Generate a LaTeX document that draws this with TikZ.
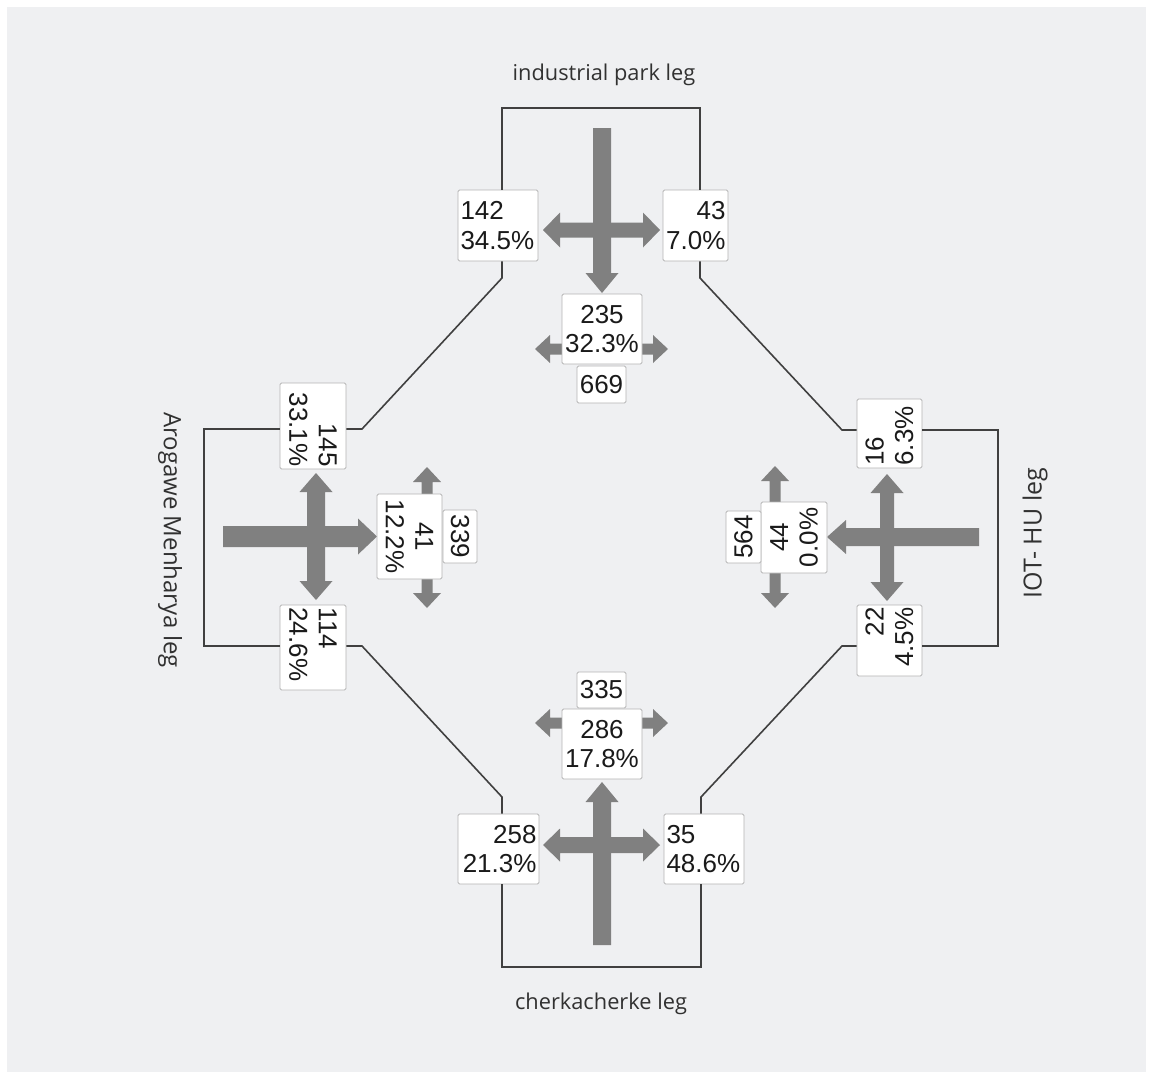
\documentclass[tikz,border=0pt]{standalone}
\usepackage{fontspec}
\setmainfont{Liberation Sans}
\newfontfamily\titlefont{Open Sans}
\usetikzlibrary{calc}
\definecolor{bg}{HTML}{EFF0F2}
\definecolor{arr}{HTML}{808080}
\definecolor{ln}{HTML}{404040}
\definecolor{bx}{HTML}{B4B4B4}
\definecolor{tx}{HTML}{1A1A1A}
\tikzset{
  cnt/.style={draw=bx, line width=0.9pt, fill=white, rounded corners=1.5pt,
    inner xsep=2.5pt, inner ysep=0pt, text=tx, font=\fontsize{26}{29.5}\selectfont},
  legline/.style={draw=ln, line width=1.6pt},
  legtitle/.style={text=tx!90, font=\titlefont\fontsize{#1}{24}\selectfont},
  legtitle/.default=22,
  pics/oneway/.style n args={4}{code={%
    \fill[arr] (0,-#2/2) -- ({#1-#4},-#2/2) -- ({#1-#4},-#3/2) -- (#1,0)
      -- ({#1-#4},#3/2) -- ({#1-#4},#2/2) -- (0,#2/2) -- cycle;}},
  pics/twoway/.style n args={4}{code={%
    \fill[arr] (#4,-#2/2) -- ({#1-#4},-#2/2) -- ({#1-#4},-#3/2) -- (#1,0)
      -- ({#1-#4},#3/2) -- ({#1-#4},#2/2) -- (#4,#2/2) -- (#4,#3/2)
      -- (0,0) -- (#4,-#3/2) -- cycle;}}
}
\begin{document}
\begin{tikzpicture}[x=1pt,y=-1pt]
\useasboundingbox (0,0) rectangle (1153,1079);
\fill[white] (0,0) rectangle (1153,1079);
\fill[bg] (7,7) rectangle (1146,1072);

% ---------- arrows ----------
% top leg
\pic[rotate=-90] at (602,128) {oneway={165}{18}{33}{20}};
\pic at (543,230) {twoway={117}{15}{35}{17}};
\pic at (535,349) {twoway={133}{11}{28}{15}};
% left leg
\pic at (223,536.5) {oneway={154}{21}{36}{19}};
\pic[rotate=-90] at (316,473) {twoway={127}{18}{33}{19}};
\pic[rotate=-90] at (427,467) {twoway={141}{11}{28}{15}};
% right leg
\pic[rotate=180] at (979,537) {oneway={152}{18}{34}{19}};
\pic[rotate=-90] at (887,474) {twoway={127}{14}{33}{19}};
\pic[rotate=-90] at (775,466) {twoway={142}{11}{28}{15}};
% bottom leg
\pic[rotate=90] at (602,945) {oneway={163}{18}{33}{20}};
\pic at (543,845) {twoway={117}{16}{33}{17}};
\pic at (535,723) {twoway={133}{11}{28}{15}};

% ---------- count boxes ----------
% top leg
\node[cnt, text width=75pt, minimum height=71pt, align=left] (T1) at (498,225.5) {142\\34.5\%};
\node[cnt, text width=60pt, minimum height=71pt, align=right] (T2) at (695.5,225.5) {43\\7.0\%};
\node[cnt, text width=75pt, minimum height=70pt, align=center] (TC) at (602,329) {235\\32.3\%};
\node[cnt, text width=44pt, minimum height=37pt, align=center] (TT) at (601.5,384.5) {669};
% left leg
\node[cnt, rotate=-90, text width=81pt, minimum height=66pt, align=right] (L1) at (313,426) {145\\33.1\%};
\node[cnt, rotate=-90, text width=80pt, minimum height=66pt, align=left] (L2) at (313,647.5) {114\\24.6\%};
\node[cnt, rotate=-90, text width=80pt, minimum height=65pt, align=center] (LC) at (409.5,536.5) {41\\12.2\%};
\node[cnt, rotate=-90, text width=48pt, minimum height=34pt, align=center] (LT) at (460,536.5) {339};
% right leg
\node[cnt, rotate=90, text width=64pt, minimum height=65pt, align=left] (R1) at (889.5,433.5) {16\\6.3\%};
\node[cnt, rotate=90, text width=66pt, minimum height=65pt, align=right] (R2) at (889.5,640.5) {22\\4.5\%};
\node[cnt, rotate=90, text width=66pt, minimum height=66pt, align=center] (RC) at (794,537.5) {44\\0.0\%};
\node[cnt, rotate=90, text width=47pt, minimum height=35pt, align=center] (RT) at (743.5,537) {564};
% bottom leg
\node[cnt, text width=76pt, minimum height=70pt, align=right] (B1) at (498.5,849) {258\\21.3\%};
\node[cnt, text width=75pt, minimum height=70pt, align=left] (B2) at (704,849) {35\\48.6\%};
\node[cnt, text width=75pt, minimum height=70pt, align=center] (BC) at (602,744) {286\\17.8\%};
\node[cnt, text width=44pt, minimum height=36pt, align=center] (BT) at (601.5,690) {335};

% ---------- outline ----------
\coordinate (tTL) at (502,108);
\coordinate (tTR) at (700,108);
\coordinate (tBL) at (502,278);
\coordinate (tBR) at (700,278);
\coordinate (lTR) at (362,429);
\coordinate (lTL) at (204,429);
\coordinate (lBL) at (204,646);
\coordinate (lBR) at (362,646);
\coordinate (rTL) at (842,430);
\coordinate (rTR) at (998,430);
\coordinate (rBR) at (998,646);
\coordinate (rBL) at (842,646);
\coordinate (bTL) at (502,797);
\coordinate (bTR) at (701,797);
\coordinate (bBL) at (502,967);
\coordinate (bBR) at (701,967);

\draw[legline] (tTL |- T1.north) -- (tTL) -- (tTR) -- (tTR |- T2.north);
\draw[legline] (tBL |- T1.south) -- (tBL) -- (lTR) -- (lTR -| L1.north);
\draw[legline] (tBR |- T2.south) -- (tBR) -- (rTL) -- (rTL -| R1.north);
\draw[legline] (lTL -| L1.south) -- (lTL) -- (lBL) -- (lBL -| L2.south);
\draw[legline] (lBR -| L2.north) -- (lBR) -- (bTL) -- (bTL |- B1.north);
\draw[legline] (rTR -| R1.south) -- (rTR) -- (rBR) -- (rBR -| R2.south);
\draw[legline] (rBL -| R2.north) -- (rBL) -- (bTR) -- (bTR |- B2.north);
\draw[legline] (bBL |- B1.south) -- (bBL) -- (bBR) -- (bBR |- B2.south);

% ---------- leg titles ----------
\node[legtitle=21.8] (ttop) at (604,75) {industrial park leg};
\node[legtitle=24, rotate=-90] (tleft) at (170,540) {Arogawe Menharya leg};
\node[legtitle=25, rotate=90] (tright) at (1035,533) {IOT- HU leg};
\node[legtitle=21.8] (tbot) at (601,1004) {cherkacherke leg};
\end{tikzpicture}
\end{document}
